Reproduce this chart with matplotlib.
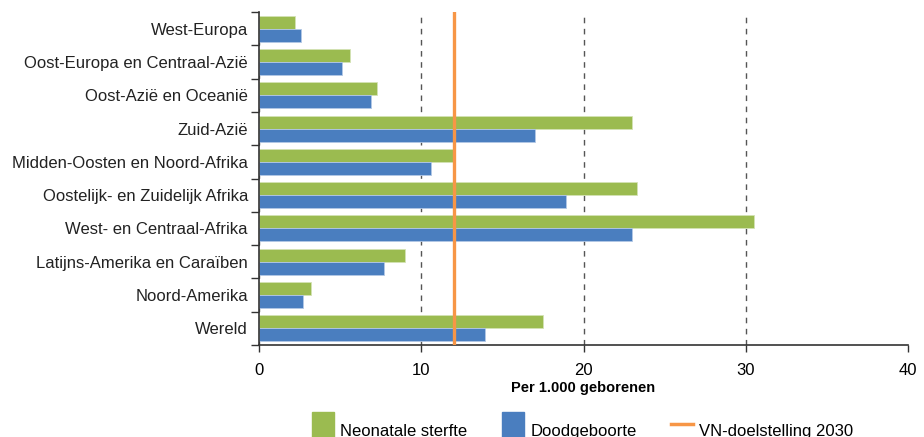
import matplotlib.pyplot as plt
import numpy as np
from matplotlib.patches import Patch
from matplotlib.lines import Line2D

# Sterfte per 1.000 geborenen per regio
regions = [
    "West-Europa",
    "Oost-Europa en Centraal-Azië",
    "Oost-Azië en Oceanië",
    "Zuid-Azië",
    "Midden-Oosten en Noord-Afrika",
    "Oostelijk- en Zuidelijk Afrika",
    "West- en Centraal-Afrika",
    "Latijns-Amerika en Caraïben",
    "Noord-Amerika",
    "Wereld",
]
neonatal = [2.2, 5.6, 7.3, 23.0, 12.0, 23.3, 30.5, 9.0, 3.2, 17.5]
stillbirth = [2.6, 5.1, 6.9, 17.0, 10.6, 18.9, 23.0, 7.7, 2.7, 13.9]
target_2030 = 12

green = "#9bbb50"
blue = "#4a7ebf"
orange = "#f79646"

plt.rcParams["font.family"] = ["Liberation Sans", "DejaVu Sans"]

fig = plt.figure(figsize=(9.24, 4.37), dpi=100)
ax = fig.add_axes([0.2803, 0.2105, 0.7024, 0.762])

y = np.arange(len(regions))
h = 0.39
ax.barh(y - h / 2, neonatal, height=h, color=green, edgecolor="#d4e3b5", linewidth=0.6, zorder=2)
ax.barh(y + h / 2, stillbirth, height=h, color=blue, edgecolor="#b3c8e6", linewidth=0.6, zorder=2)
ax.axvline(target_2030, color=orange, linewidth=2.4, zorder=3)

ax.set_xlim(0, 40)
ax.set_ylim(len(regions) - 0.5, -0.5)
ax.set_yticks(y)
ax.set_yticklabels(regions, fontsize=12, color="#222222")
ax.set_yticks(np.arange(len(regions) + 1) - 0.5, minor=True)
ax.tick_params(axis="y", which="major", length=0, pad=8)
ax.tick_params(axis="y", which="minor", length=6, width=1, color="#333333")
ax.set_xticks([0, 10, 20, 30, 40])
ax.tick_params(axis="x", length=5, width=1, color="#333333", labelsize=12, pad=8)

ax.xaxis.grid(True, linestyle=(0, (4, 4)), color="#555555", linewidth=1)
ax.xaxis.get_gridlines()[-1].set_visible(False)
ax.set_axisbelow(True)
for side in ("top", "right"):
    ax.spines[side].set_visible(False)
for side in ("left", "bottom"):
    ax.spines[side].set_color("#333333")
    ax.spines[side].set_linewidth(1.2)

ax.set_xlabel("Per 1.000 geborenen", fontsize=10.5, fontweight="bold", labelpad=2)

handles = [
    Patch(color=green, label="Neonatale sterfte"),
    Patch(color=blue, label="Doodgeboorte"),
    Line2D([0], [0], color=orange, linewidth=2.5, label="VN-doelstelling 2030"),
]
fig.legend(handles=handles, loc="upper left", bbox_to_anchor=(0.3377, 0.058), ncol=3,
           frameon=False, prop={"size": 12}, handlelength=1.32,
           handleheight=3.2, handletextpad=0.36, columnspacing=2.1,
           borderaxespad=0, borderpad=0)

fig.savefig("out.png", dpi=100)
